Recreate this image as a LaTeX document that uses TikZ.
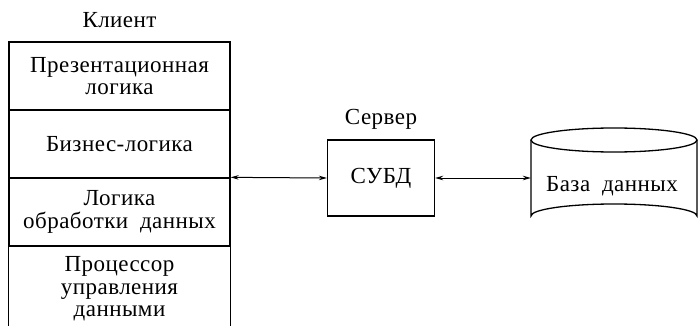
\documentclass[tikz,border=0pt]{standalone}
\usepackage{fontspec}
\setmainfont[LetterSpace=2,WordSpace=1.9]{Liberation Serif}
\usetikzlibrary{arrows.meta}
\begin{document}
\begin{tikzpicture}[x=1pt,y=-1pt,
  txt/.style={font=\fontsize{23}{22.5}\selectfont, align=center, inner sep=0pt},
  layer/.style={txt, draw, line width=1.3pt, minimum width=221pt, minimum height=68pt},
  conn/.style={line width=1pt, {Stealth[length=8pt,width=4.5pt]}-{Stealth[length=8pt,width=4.5pt]}}]
\useasboundingbox (0,0) rectangle (698,326);
\node[txt] (client) at (119.5,20) {Клиент};
\node[layer] (p1) at (119.5,76) {Презентационная\\логика};
\node[layer] (p2) at (119.5,144) {Бизнес-логика};
\node[layer] (p3) at (119.5,212) {Логика\\обработки данных};
\node[txt] (p4) at (119.5,289) {Процессор\\управления\\данными};
\draw[line width=1.3pt] (p3.south west) -- ++(0,82);
\draw[line width=1.3pt] (p3.south east) -- ++(0,82);
\node[txt] (srvlabel) at (381,119) {Сервер};
\node[txt, draw, line width=1.3pt, minimum width=107pt, minimum height=76pt] (dbms) at (381,178) {СУБД};
\draw[line width=1.3pt] (531,140) -- (531,216) arc[start angle=180, end angle=360, x radius=83, y radius=12] -- (697,140);
\draw[line width=1.3pt] (614,140) ellipse[x radius=83, y radius=12];
\node[txt, minimum width=166pt, minimum height=76pt] (db) at (614,178) {};
\node[txt] (dbtext) at (612,186) {База данных};
\draw[conn] (p3.north east) -- (dbms.west);
\draw[conn] (dbms.east) -- (db.west);
\end{tikzpicture}
\end{document}
